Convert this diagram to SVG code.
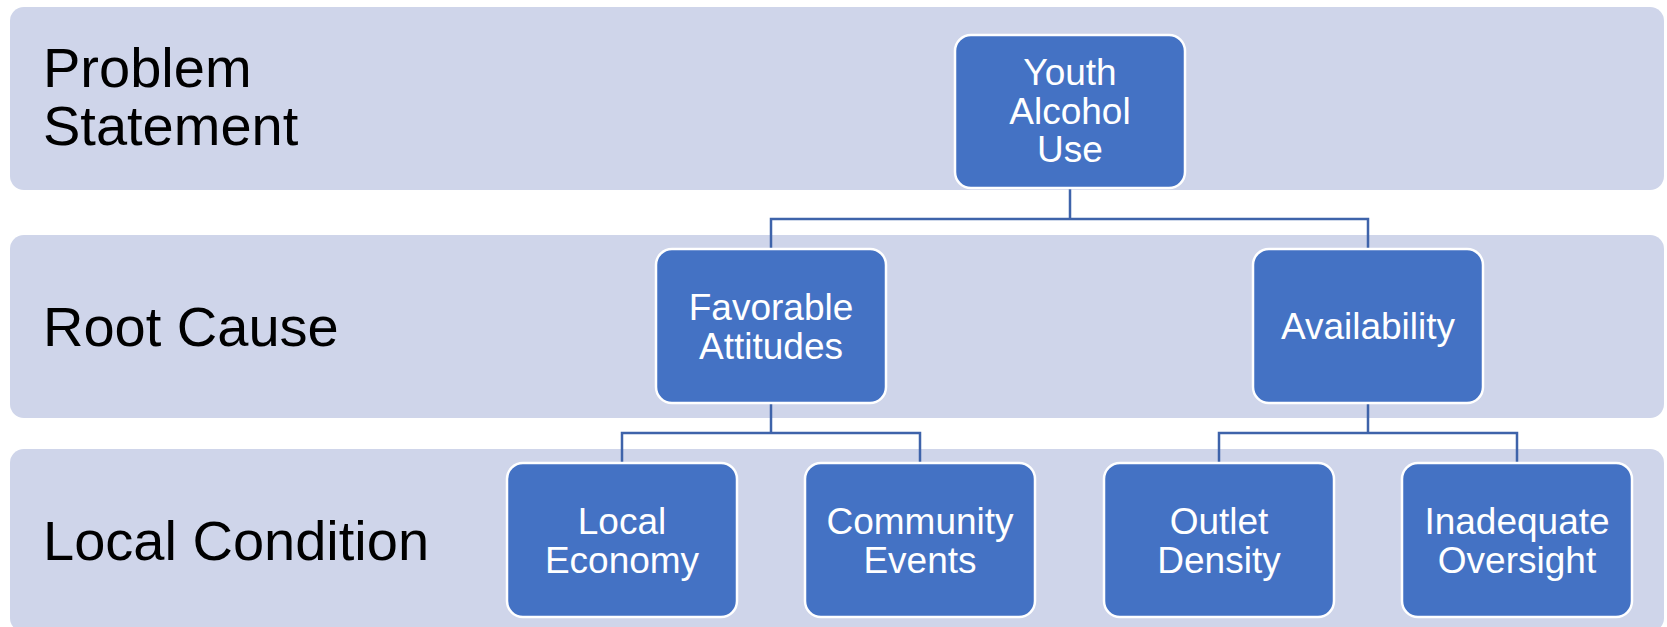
<svg xmlns="http://www.w3.org/2000/svg" width="1667" height="627" viewBox="0 0 1667 627">
<style>
.band{fill:#CFD5EA}
.node{fill:#4472C4;stroke:#FFFFFF;stroke-width:2.5}
.lbl{font-family:"Liberation Sans",Arial,sans-serif;font-size:56px;fill:#000000}
.nt{font-family:"Liberation Sans",Arial,sans-serif;font-size:37px;fill:#FFFFFF;text-anchor:middle}
.conn{fill:none;stroke:#3E63AA;stroke-width:2.5}
</style>
<rect width="1667" height="627" fill="#FFFFFF"/>
<g id="band-problem"><rect class="band" x="10" y="7" width="1654" height="183" rx="14"/><text class="lbl" x="43" y="87">Problem</text><text class="lbl" x="43" y="145">Statement</text></g>
<g id="band-root"><rect class="band" x="10" y="235" width="1654" height="183" rx="14"/><text class="lbl" x="43" y="346">Root Cause</text></g>
<g id="band-local"><rect class="band" x="10" y="449" width="1654" height="183" rx="14"/><text class="lbl" x="43" y="560">Local Condition</text></g>
<g id="connectors">
<path class="conn" d="M1070 188V219M771 249V219H1368V249"/>
<path class="conn" d="M771 403V433M622 463V433H920V463"/>
<path class="conn" d="M1368 403V433M1219 463V433H1517V463"/>
</g>
<g id="youth"><rect class="node" x="955" y="35" width="230" height="153" rx="16"/><text class="nt" x="1070" y="85">Youth</text><text class="nt" x="1070" y="123.5">Alcohol</text><text class="nt" x="1070" y="162">Use</text></g>
<g id="favorable"><rect class="node" x="656" y="249" width="230" height="154" rx="16"/><text class="nt" x="771" y="320">Favorable</text><text class="nt" x="771" y="358.5">Attitudes</text></g>
<g id="availability"><rect class="node" x="1253" y="249" width="230" height="154" rx="16"/><text class="nt" x="1368" y="339">Availability</text></g>
<g id="local-economy"><rect class="node" x="507" y="463" width="230" height="154" rx="16"/><text class="nt" x="622" y="534">Local</text><text class="nt" x="622" y="572.5">Economy</text></g>
<g id="community-events"><rect class="node" x="805" y="463" width="230" height="154" rx="16"/><text class="nt" x="920" y="534">Community</text><text class="nt" x="920" y="572.5">Events</text></g>
<g id="outlet-density"><rect class="node" x="1104" y="463" width="230" height="154" rx="16"/><text class="nt" x="1219" y="534">Outlet</text><text class="nt" x="1219" y="572.5">Density</text></g>
<g id="inadequate-oversight"><rect class="node" x="1402" y="463" width="230" height="154" rx="16"/><text class="nt" x="1517" y="534">Inadequate</text><text class="nt" x="1517" y="572.5">Oversight</text></g>
</svg>
